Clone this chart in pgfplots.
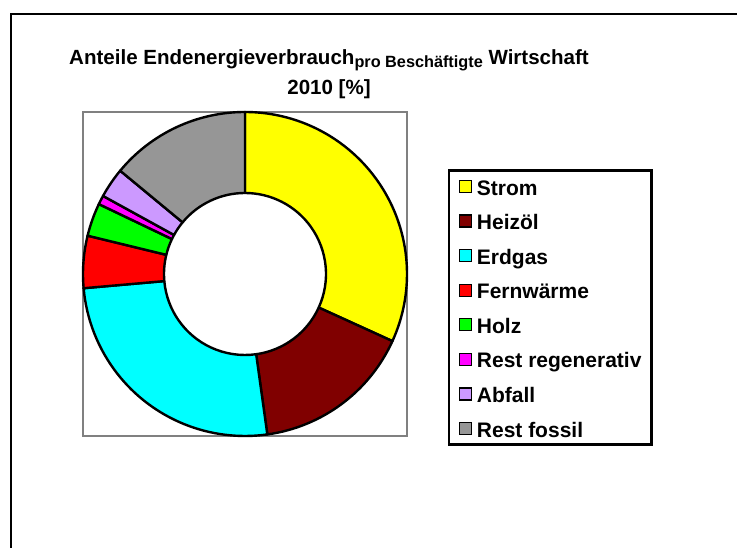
\documentclass[border=0pt]{standalone}
\usepackage{fontspec}
\setmainfont{Liberation Sans}
\usepackage{pgfplots}
\usepackage{pgfplotstable}
\pgfplotsset{compat=1.18}

\definecolor{cStrom}{RGB}{255,255,0}
\definecolor{cHeizoel}{RGB}{128,0,0}
\definecolor{cErdgas}{RGB}{0,255,255}
\definecolor{cFernwaerme}{RGB}{255,0,0}
\definecolor{cHolz}{RGB}{0,255,0}
\definecolor{cRestReg}{RGB}{255,0,255}
\definecolor{cAbfall}{RGB}{204,153,255}
\definecolor{cRestFos}{RGB}{150,150,150}
\definecolor{boxgray}{RGB}{128,128,128}

% Anteile in %, im Uhrzeigersinn ab 12 Uhr
\pgfplotstableread{
anteil farbe
31.8 cStrom
16.0 cHeizoel
25.8 cErdgas
5.2  cFernwaerme
3.3  cHolz
0.9  cRestReg
3.0  cAbfall
14.0 cRestFos
}\anteile

\pgfplotsset{sq legend/.style={legend image code/.code={%
  \draw[##1,draw=black,line width=1pt] (0pt,-4.5pt) rectangle (9pt,4.5pt);}}}

\begin{document}
\begin{tikzpicture}[font=\fontsize{15.4}{18}\selectfont\bfseries]
\useasboundingbox (0,0) rectangle (552.75pt,411pt);
\draw[line width=1.5pt] (8.25pt,-10pt) -- (8.25pt,400.5pt) -- (570pt,400.5pt);
\node[anchor=base,inner sep=0pt] at (246.75pt,362.6pt)
  {Anteile Endenergieverbrauch\raisebox{-2.6pt}{\fontsize{12.2}{14}\selectfont pro Beschäftigte} Wirtschaft};
\node[anchor=base,inner sep=0pt] at (246.75pt,340.1pt) {2010 [\%]};
\begin{axis}[at={(62.25pt,84pt)},anchor=south west,scale only axis,
  width=243pt,height=243pt,xmin=-1,xmax=1,ymin=-1,ymax=1,
  xtick=\empty,ytick=\empty,clip=false,
  axis line style={draw=boxgray,line width=1.6pt},
  legend cell align=left,
  legend style={at={(1.1265,0.8228)},anchor=north west,draw=black,line width=1.6pt,
    inner xsep=7.5pt,inner ysep=4.5pt,row sep=10.93pt,column sep=3.4pt,
    font=\fontsize{15.75}{18}\selectfont\bfseries,
    nodes={inner sep=0pt,text height=13.9pt,text depth=1.1pt}}]
\pgfmathsetmacro\kum{0}
\pgfplotsforeachungrouped \i in {0,...,7}{%
  \pgfplotstablegetelem{\i}{anteil}\of\anteile \let\wert\pgfplotsretval
  \pgfplotstablegetelem{\i}{farbe}\of\anteile \let\farbe\pgfplotsretval
  \pgfmathsetmacro\wa{90-3.6*\kum}%
  \pgfmathsetmacro\kum{\kum+\wert}%
  \pgfmathsetmacro\we{90-3.6*\kum}%
  \edef\segment{\noexpand\draw[fill=\farbe,draw=black,line width=1.8pt,line join=round]
    (axis cs:{cos(\wa)},{sin(\wa)}) arc[start angle=\wa,end angle=\we,radius=121.5pt]
    -- (axis cs:{0.5*cos(\we)},{0.5*sin(\we)}) arc[start angle=\we,end angle=\wa,radius=60.75pt]
    -- cycle;}%
  \segment
}
\addlegendimage{sq legend,fill=cStrom}\addlegendentry{Strom}
\addlegendimage{sq legend,fill=cHeizoel}\addlegendentry{Heizöl}
\addlegendimage{sq legend,fill=cErdgas}\addlegendentry{Erdgas}
\addlegendimage{sq legend,fill=cFernwaerme}\addlegendentry{Fernwärme}
\addlegendimage{sq legend,fill=cHolz}\addlegendentry{Holz}
\addlegendimage{sq legend,fill=cRestReg}\addlegendentry{Rest regenerativ}
\addlegendimage{sq legend,fill=cAbfall}\addlegendentry{Abfall}
\addlegendimage{sq legend,fill=cRestFos}\addlegendentry{Rest fossil}
\end{axis}
\end{tikzpicture}
\end{document}
